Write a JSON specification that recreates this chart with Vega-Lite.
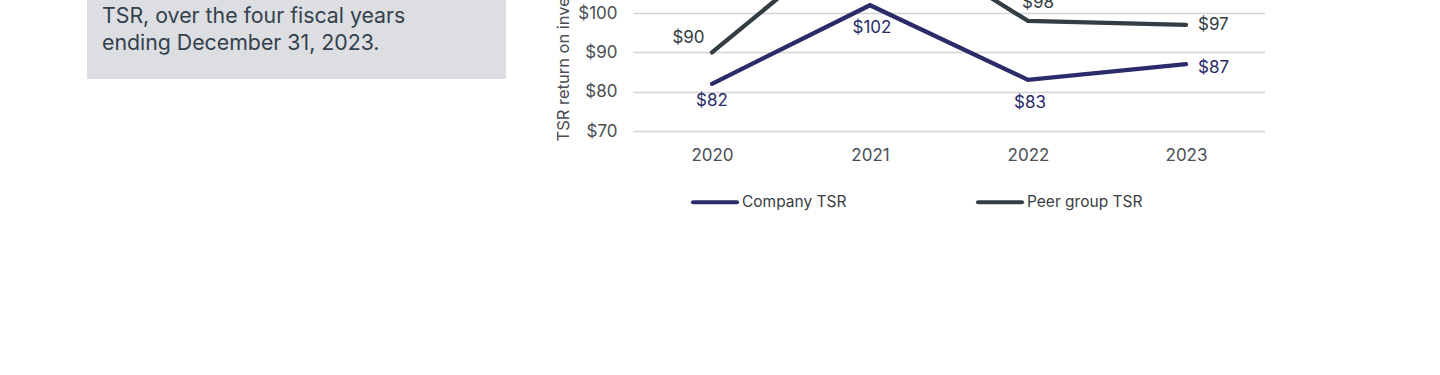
{
  "$schema": "https://vega.github.io/schema/vega-lite/v6.json",
  "background": "#ffffff",
  "padding": {"left": 87, "top": -57, "right": 0, "bottom": 0},
  "config": {
    "font": "Inter",
    "view": {"stroke": null},
    "axis": {"labelFont": "Inter", "titleFont": "Inter"},
    "legend": {"labelFont": "Inter"}
  },
  "bounds": "flush",
  "spacing": 127,
  "hconcat": [
    {
      "width": 419,
      "height": 79,
      "view": {"fill": "#dcdee1", "stroke": null},
      "data": {"values": [
        {"line": 1, "text": "TSR, over the four fiscal years"},
        {"line": 2, "text": "ending December 31, 2023."}
      ]},
      "mark": {"type": "text", "align": "left", "baseline": "alphabetic", "fontSize": 21.3, "color": "#33414d", "dx": 15},
      "encoding": {
        "x": {"datum": 0, "type": "quantitative", "scale": {"domain": [0, 1]}, "axis": null},
        "y": {"field": "line", "type": "ordinal", "scale": {"type": "point", "padding": 0.947, "align": 0.439}, "axis": null},
        "text": {"field": "text"}
      }
    },
    {
      "width": 632,
      "height": 131,
      "data": {"values": [
        {"year": "2020", "series": "Company TSR", "value": 82},
        {"year": "2021", "series": "Company TSR", "value": 102},
        {"year": "2022", "series": "Company TSR", "value": 83},
        {"year": "2023", "series": "Company TSR", "value": 87},
        {"year": "2020", "series": "Peer group TSR", "value": 90},
        {"year": "2021", "series": "Peer group TSR", "value": 123},
        {"year": "2022", "series": "Peer group TSR", "value": 98},
        {"year": "2023", "series": "Peer group TSR", "value": 97}
      ]},
      "encoding": {
        "x": {"field": "year", "type": "ordinal", "scale": {"type": "point", "padding": 0.5},
          "axis": {"title": null, "labelAngle": 0, "domain": false, "ticks": false, "tickSize": 0, "labelPadding": 16.5, "labelFontSize": 17, "labelColor": "#4b4e53", "grid": false}},
        "y": {"field": "value", "type": "quantitative", "scale": {"domain": [70, 103.33], "nice": false, "zero": false},
          "axis": {"title": "TSR return on investment", "values": [70, 80, 90, 100], "format": "$.0f", "domain": false, "ticks": false, "tickSize": 0, "labelPadding": 16, "labelFontSize": 17, "labelColor": "#4b4e53", "gridColor": "#d3d3d8", "gridWidth": 1.5, "titleFontSize": 16.5, "titleFontWeight": "normal", "titleColor": "#4b4e53", "titleX": -70, "titleY": 141, "titleAlign": "left", "titleAngle": -90, "titleBaseline": "middle"}},
        "color": {"field": "series", "type": "nominal",
          "scale": {"domain": ["Company TSR", "Peer group TSR"], "range": ["#2a2b68", "#323d44"]},
          "legend": null}
      },
      "layer": [
        {
          "mark": {"type": "line", "strokeWidth": 4.3, "clip": true, "strokeCap": "round"},
          "encoding": {
            "color": {"field": "series", "type": "nominal",
              "scale": {"domain": ["Company TSR", "Peer group TSR"], "range": ["#2a2b68", "#323d44"]},
              "legend": {"title": null, "orient": "none", "legendX": 604, "legendY": 178, "direction": "horizontal", "columns": 2, "columnPadding": 123, "symbolType": "stroke", "symbolSize": 1936, "symbolStrokeWidth": 4, "labelFontSize": 15.5, "labelColor": "#3a3d42", "labelOffset": 3,
                "encode": {"symbols": {"update": {"strokeCap": {"value": "round"}}}}}}
          }
        },
        {
          "transform": [{"filter": "datum.series == 'Company TSR' && datum.year == '2020'"}],
          "mark": {"type": "text", "fontSize": 17, "dy": 17, "clip": true},
          "encoding": {"text": {"field": "value", "type": "quantitative", "format": "$.0f"}}
        },
        {
          "transform": [{"filter": "datum.series == 'Company TSR' && (datum.year == '2021' || datum.year == '2022')"}],
          "mark": {"type": "text", "fontSize": 17, "dx": 2, "dy": 23, "clip": true},
          "encoding": {"text": {"field": "value", "type": "quantitative", "format": "$.0f"}}
        },
        {
          "transform": [{"filter": "datum.series == 'Company TSR' && datum.year == '2023'"}],
          "mark": {"type": "text", "fontSize": 17, "align": "left", "dx": 12, "dy": 4, "clip": true},
          "encoding": {"text": {"field": "value", "type": "quantitative", "format": "$.0f"}}
        },
        {
          "transform": [{"filter": "datum.series == 'Peer group TSR' && datum.year == '2023'"}],
          "mark": {"type": "text", "fontSize": 17, "align": "left", "dx": 12, "dy": 0, "clip": true},
          "encoding": {"text": {"field": "value", "type": "quantitative", "format": "$.0f"}}
        },
        {
          "transform": [{"filter": "datum.series == 'Peer group TSR' && datum.year == '2020'"}],
          "mark": {"type": "text", "fontSize": 17, "dx": -23.5, "dy": -14, "clip": true},
          "encoding": {"text": {"field": "value", "type": "quantitative", "format": "$.0f"}}
        },
        {
          "transform": [{"filter": "datum.series == 'Peer group TSR' && (datum.year == '2021' || datum.year == '2022')"}],
          "mark": {"type": "text", "fontSize": 17, "dx": 10, "dy": -18, "clip": true},
          "encoding": {"text": {"field": "value", "type": "quantitative", "format": "$.0f"}}
        }
      ]
    }
  ]
}
